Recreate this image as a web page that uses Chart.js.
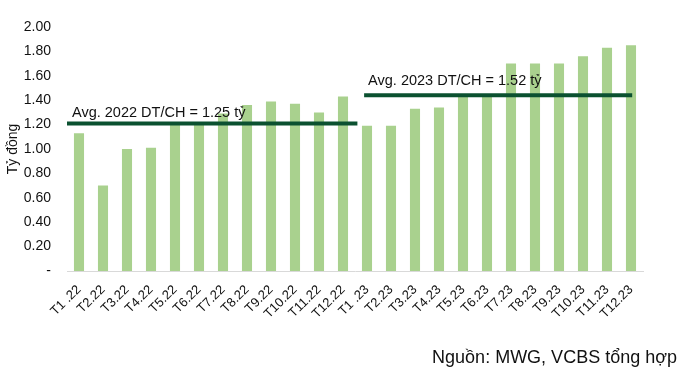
<!DOCTYPE html>
<html>
<head>
<meta charset="utf-8">
<script src="https://cdn.jsdelivr.net/npm/chart.js@4.4.1/dist/chart.umd.min.js"></script>
<style>
  html, body { margin: 0; padding: 0; background: #fff; }
  #wrap { width: 683px; height: 377px; position: relative; }
</style>
</head>
<body>
<div id="wrap"><canvas id="chart-dt-ch"></canvas></div>
<script>
// data
const labelsThang = [
    "T1 .22", "T2.22", "T3.22", "T4.22", "T5.22", "T6.22",
    "T7.22", "T8.22", "T9.22", "T10.22", "T11.22", "T12.22",
    "T1 .23", "T2.23", "T3.23", "T4.23", "T5.23", "T6.23",
    "T7.23", "T8.23", "T9.23", "T10.23", "T11.23", "T12.23",
];
const doanhThuCuaHang = [
    1.13, 0.70, 1.00, 1.01, 1.20, 1.21, 1.29, 1.36, 1.39, 1.37, 1.30, 1.43,
    1.19, 1.19, 1.33, 1.34, 1.44, 1.44, 1.70, 1.70, 1.70, 1.76, 1.83, 1.85,
];
const yTicks = [0, 0.2, 0.4, 0.6, 0.8, 1.0, 1.2, 1.4, 1.6, 1.8, 2.0];

// duong trung binh (muc ve tren truc y) + nhan
const avgLevels = [1.21, 1.44];
const avgLabels = ["Avg. 2022 DT/CH = 1.25 tỷ", "Avg. 2023 DT/CH = 1.52 tỷ"];
const nguon = "Nguồn: MWG, VCBS tổng hợp";

const fontFamily = "'Liberation Sans', Arial, sans-serif";

// plugin ve duong trung binh + nguon
const avgPlugin = {
    id: "avgPlugin",
    afterDatasetsDraw(chart, args, opts) {
        const { ctx, scales } = chart;
        ctx.save();
        avgLevels.forEach((level, i) => {
            const span = opts.spans[i];
            const y = scales.y.getPixelForValue(level);
            const x1 = scales.x.getPixelForValue(span.from);
            const x2 = scales.x.getPixelForValue(span.to);
            ctx.strokeStyle = "#0b5130";
            ctx.lineWidth = 4;
            ctx.beginPath();
            ctx.moveTo(x1, y);
            ctx.lineTo(x2, y);
            ctx.stroke();
            ctx.fillStyle = "#111";
            ctx.font = "14.5px " + fontFamily;
            ctx.textAlign = "left";
            ctx.textBaseline = "alphabetic";
            ctx.fillText(avgLabels[i], x1 + span.dx, y - span.dy);
        });
        ctx.font = "18px " + fontFamily;
        ctx.textAlign = "right";
        ctx.fillStyle = "#111";
        ctx.fillText(nguon, 677, 363);
        ctx.restore();
    },
};

const configDtCh = {
    type: "bar",
    data: {
        labels: labelsThang,
        datasets: [
            {
                label: "DT/CH",
                data: doanhThuCuaHang,
                backgroundColor: "#a9d18e",
                barPercentage: 0.42,
                categoryPercentage: 1.0,
            },
        ],
    },
    options: {
        responsive: false,
        animation: false,
        layout: {
            padding: { top: 27, right: 40, left: 0, bottom: 0 },
        },
        plugins: {
            legend: { display: false },
            tooltip: { enabled: false },
            avgPlugin: {
                spans: [
                    { from: -0.5, to: 11.6, dx: 5, dy: 6 },
                    { from: 11.88, to: 23.05, dx: 4, dy: 10 },
                ],
            },
        },
        scales: {
            x: {
                grid: { display: false },
                border: { display: true, color: "#d9d9d9", width: 1 },
                ticks: {
                    color: "#111",
                    font: { size: 13, family: fontFamily },
                    minRotation: 45,
                    maxRotation: 45,
                    autoSkip: false,
                    padding: 3,
                },
                afterFit: (s) => { s.height = 106; },
            },
            y: {
                min: 0,
                max: 2,
                grid: { display: false },
                border: { display: false },
                afterBuildTicks: (s) => { s.ticks = yTicks.map((v) => ({ value: v })); },
                ticks: {
                    color: "#111",
                    font: { size: 14, family: fontFamily },
                    padding: 8,
                    callback: function (value) {
                        return value === 0 ? "-" : value.toFixed(2);
                    },
                },
                title: {
                    display: true,
                    text: "Tỷ đồng",
                    color: "#111",
                    font: { size: 14, family: fontFamily },
                    padding: { top: 5, bottom: 0 },
                },
                afterFit: (s) => { s.width = 67; },
            },
        },
    },
    plugins: [avgPlugin],
};

const canvas = document.getElementById("chart-dt-ch");
canvas.width = 683;
canvas.height = 377;
new Chart(canvas, configDtCh);
</script>
</body>
</html>
